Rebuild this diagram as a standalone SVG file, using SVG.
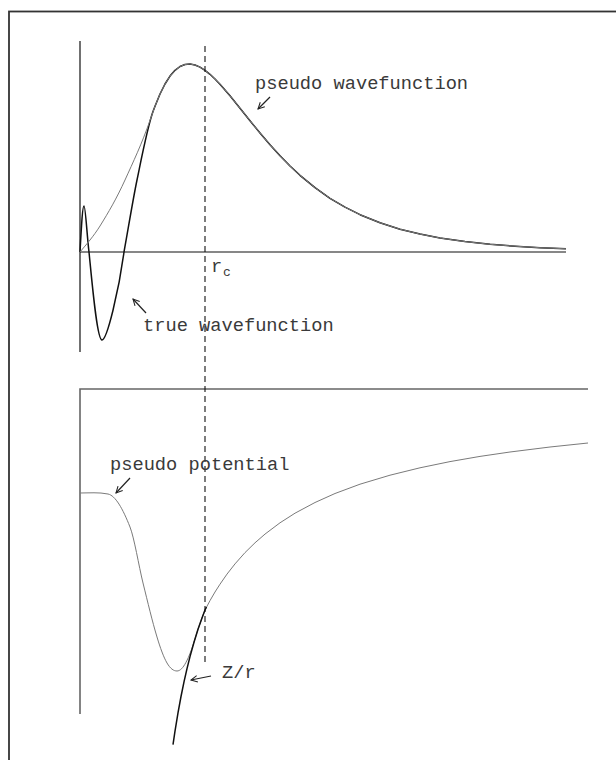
<svg xmlns="http://www.w3.org/2000/svg" width="616" height="760" viewBox="0 0 616 760">
<style>
.lbl{font-family:"Liberation Mono","Courier New",monospace;font-size:18.7px;fill:#3a3a3a}
.sub{font-family:"Liberation Mono","Courier New",monospace;font-size:13px;fill:#3a3a3a}
.ax{fill:none;stroke:#111;stroke-width:1.2}
.ax2{fill:none;stroke:#666;stroke-width:1.6}
.gray{fill:none;stroke:#7a7a7a;stroke-width:1}
.blk{fill:none;stroke:#111;stroke-width:1.5;stroke-linejoin:round}
.arr{fill:none;stroke:#222;stroke-width:1.2;marker-end:url(#ah)}
</style>
<defs>
<marker id="ah" viewBox="0 0 10 10" refX="9" refY="5" markerWidth="8" markerHeight="8" markerUnits="userSpaceOnUse" orient="auto">
<path d="M1,1 L9,5 L1,9" fill="none" stroke="#222" stroke-width="1.3"/>
</marker>
</defs>
<rect width="616" height="760" fill="#fff"/>
<rect id="frame" x="9" y="11.5" width="700" height="800" fill="none" stroke="#333" stroke-width="1.8"/>

<g id="top-plot">
<path class="ax" d="M80,41 V352"/>
<path class="ax" d="M80,252 H566" stroke-width="1.5"/>
<path id="true-wavefunction" class="blk" d="M80,252 C81.5,225 82.5,206 84,206 C85.5,206 87,236 89,252 C92,282 97,340 102,340 C107,340 119,290 124,252 C128.33,228.2 132.67,201 137,180 C142.33,154.2 147.67,126.4 153,111.6 L155,106.2 L160,94 L165,84 L170,76.1 L175,70.3 L180,66.5 L185,64.5 L190,64 L195,65 L200,67.1 L205,70.3 L210,74.3 L215,79 L220,84.2 L225,89.9 L230,95.8 L240,108.2 L250,120.7 L260,133 L270,144.8 L280,155.8 L290,166 L300,175.3 L315,187.7 L330,198.3 L345,207.2 L360,214.7 L380,222.8 L400,229.2 L420,234.1 L440,238 L465,241.6 L490,244.3 L515,246.2 L540,247.7 L566,248.8"/>
<path id="pseudo-wavefunction" class="gray" d="M80,252 C86.67,244 93.33,236.67 100,226 C108.33,212.67 116.67,198.3 125,180 C133.33,161.7 141.67,144.1 150,120.4 L155,106.2 L160,94 L165,84 L170,76.1 L175,70.3 L180,66.5 L185,64.5 L190,64 L195,65 L200,67.1 L205,70.3 L210,74.3 L215,79 L220,84.2 L225,89.9 L230,95.8 L240,108.2 L250,120.7 L260,133 L270,144.8 L280,155.8 L290,166 L300,175.3 L315,187.7 L330,198.3 L345,207.2 L360,214.7 L380,222.8 L400,229.2 L420,234.1 L440,238 L465,241.6 L490,244.3 L515,246.2 L540,247.7 L566,248.8"/>
</g>

<g id="bottom-plot">
<path class="ax2" d="M80,714 V389 H588"/>
<path id="pseudo-potential" class="gray" d="M80,493 C89.33,493 98.67,492.1 108,494 C115.33,495.5 122.67,508.4 130,527 C134.33,538 138.67,565.4 143,583 C147.67,602 152.33,621.5 157,637 C160.33,648.1 163.67,657.3 167,663 C170.33,668.7 173.67,671 177,671 C183,671 189,658.6 195,638.8 L198,629.3 L202,617.9 L205,610 L210,600.6 L215,592 L220,584.2 L227,574.1 L235,563.9 L245,552.6 L255,542.8 L265,534.1 L280,522.8 L295,513.2 L315,502.5 L335,493.5 L360,484.2 L390,475.2 L420,467.8 L450,461.6 L480,456.4 L510,452 L550,447 L588,443"/>
<path id="z-over-r" class="blk" stroke-width="1.4" d="M173,744.6 L175,731.1 L178,712.8 L181,696.5 L184,681.9 L187,668.6 L190,656.6 L194,642.2 L198,629.3 L202,617.9 L205,610 L206.5,607"/>
</g>

<g id="rc-line">
<path d="M205,46 V663" fill="none" stroke="#111" stroke-width="1.1" stroke-dasharray="6,4"/>
<text class="lbl" x="211" y="272">r</text>
<text class="sub" x="223" y="276">c</text>
</g>

<g id="labels">
<g id="lbl-pseudo-wf"><text class="lbl" x="255" y="89">pseudo wavefunction</text><path class="arr" d="M270,97 L258,109"/></g>
<g id="lbl-true-wf"><text class="lbl" x="143" y="331">true wavefunction</text><path class="arr" d="M146,313 L133,299"/></g>
<g id="lbl-pseudo-pot"><text class="lbl" x="110" y="470">pseudo potential</text><path class="arr" d="M130,478 L116,493"/></g>
<g id="lbl-zr"><text class="lbl" x="222" y="678">Z/r</text><path class="arr" d="M211,676 L191,680"/></g>
</g>
</svg>
